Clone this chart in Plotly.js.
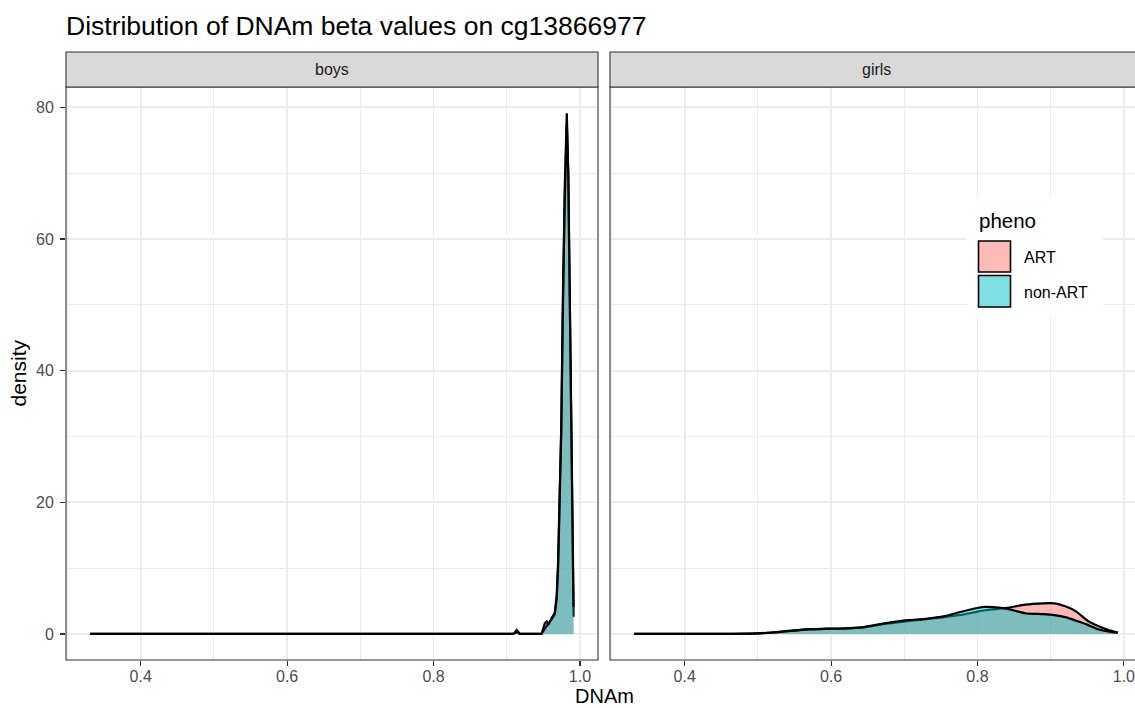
<!DOCTYPE html>
<html>
<head>
<meta charset="utf-8">
<script src="https://cdn.plot.ly/plotly-3.0.1.min.js"></script>
<style>
  html, body { margin: 0; padding: 0; background: #ffffff; }
  #chart { width: 1135px; height: 708px; }
</style>
</head>
<body>
<div id="chart"></div>
<script>
// ---------------- data ----------------
const chartTitle = 'Distribution of DNAm beta values on cg13866977';
const facets = ['boys', 'girls'];
const groups = ['ART', 'non-ART'];
const legendTitle = 'pheno';
const xTitle = 'DNAm';
const yTitle = 'density';

const xTickVals = [0.4, 0.6, 0.8, 1.0];
const xTickText = ['0.4', '0.6', '0.8', '1.0'];
const xMinorVals = [0.3, 0.5, 0.7, 0.9];
const yTickVals = [0, 20, 40, 60, 80];
const yTickText = ['0', '20', '40', '60', '80'];
const yMinorVals = [10, 30, 50, 70];

// boys facet: estimated density curves
const boysX = [0.331, 0.40, 0.50, 0.60, 0.70, 0.80, 0.90, 0.909, 0.9137, 0.918, 0.93, 0.9474,
               0.9519, 0.9546, 0.9574, 0.9611, 0.9656, 0.9683, 0.9701, 0.9724, 0.9745, 0.9765,
               0.9792, 0.9820, 0.9840, 0.9861, 0.9888, 0.9912];
const boysART = [0, 0, 0, 0, 0, 0, 0, 0, 0.6, 0, 0, 0,
                 1.6, 1.9, 1.4, 2.4, 3.2, 6, 11, 20, 32, 50,
                 68, 79.1, 70, 50, 20, 2.6];
const boysNonART = [0, 0, 0, 0, 0, 0, 0, 0, 0.3, 0, 0, 0,
                    0.8, 1.2, 1.5, 2.2, 3.0, 5.5, 10, 19, 31, 48,
                    66, 77.5, 70, 51, 22, 4.1];

// girls facet: estimated density curves
const girlsX = [0.331, 0.40, 0.45, 0.48, 0.50, 0.525, 0.55, 0.57, 0.595, 0.615, 0.645, 0.675,
                0.705, 0.73, 0.755, 0.775, 0.80, 0.81, 0.82, 0.84, 0.865, 0.89, 0.905, 0.92,
                0.935, 0.95, 0.965, 0.98, 0.9916];
const girlsART = [0, 0, 0.01, 0.04, 0.1, 0.3, 0.55, 0.72, 0.8, 0.83, 1.0, 1.55,
                  1.95, 2.25, 2.55, 2.85, 3.4, 3.6, 3.72, 3.95, 4.45, 4.65, 4.65, 4.2,
                  3.4, 2.05, 1.2, 0.55, 0.2];
const girlsNonART = [0, 0, 0.01, 0.03, 0.08, 0.25, 0.5, 0.7, 0.78, 0.82, 1.05, 1.65,
                     2.1, 2.3, 2.7, 3.3, 3.95, 4.1, 4.08, 3.85, 3.15, 3.0, 2.85, 2.55,
                     2.0, 1.42, 0.71, 0.35, 0.2];

// ---------------- styling ----------------
const FONT = 'Liberation Sans, Arial, Helvetica, sans-serif';
const fillART = 'rgba(248,118,109,0.5)';
const fillNon = 'rgba(0,191,196,0.5)';
const keyART = '#FCBBB6';
const keyNon = '#80DFE2';
const grid = '#EBEBEB';

function densTrace(x, y, fill, xa, ya, name, shape) {
  return {
    type: 'scatter', mode: 'lines', x: x, y: y, name: name,
    xaxis: xa, yaxis: ya, fill: 'tozeroy', fillcolor: fill,
    line: { color: '#000000', width: 2.2, shape: shape, smoothing: 0.6 },
    hoverinfo: 'x+y+name', showlegend: false
  };
}

const traces = [
  densTrace(boysX, boysART, fillART, 'x', 'y', groups[0], 'linear'),
  densTrace(boysX, boysNonART, fillNon, 'x', 'y', groups[1], 'linear'),
  densTrace(girlsX, girlsART, fillART, 'x2', 'y2', groups[0], 'spline'),
  densTrace(girlsX, girlsNonART, fillNon, 'x2', 'y2', groups[1], 'spline')
];

// pixel helpers for paper coordinates (plot area: x 66..1135, y 87..660)
const L = 66, T = 87, W = 1135 - 66, H = 708 - 87 - 48;
const px = v => (v - L) / W;
const py = v => (660 - v) / H;

const xDom1 = [0, px(598)];
const xDom2 = [px(610), 1];
const yRange = [-3.957, 83.1];

function xAxis(domain, range, anchor) {
  return {
    domain: domain, range: range, anchor: anchor,
    tickmode: 'array', tickvals: xTickVals, ticktext: xTickText,
    ticks: 'outside', ticklen: 5, tickwidth: 1.1, tickcolor: '#333333',
    tickfont: { family: FONT, size: 16, color: '#4D4D4D' },
    ticklabeloverflow: 'allow', ticklabelstandoff: -3,
    showgrid: true, gridcolor: grid, gridwidth: 1.9,
    minor: { tickmode: 'array', tickvals: xMinorVals, showgrid: true, gridcolor: grid, gridwidth: 1.0, ticks: '' },
    zeroline: false, showline: false, fixedrange: true
  };
}

const layout = {
  width: 1135, height: 708,
  margin: { l: L, r: 0, t: T, b: 48, pad: 0 },
  paper_bgcolor: '#ffffff', plot_bgcolor: '#ffffff',
  showlegend: false,
  font: { family: FONT, color: '#000000' },
  title: {
    text: chartTitle, xref: 'paper', x: 0, xanchor: 'left',
    yref: 'container', y: 1 - 26 / 708, yanchor: 'middle',
    font: { family: FONT, size: 26.5, color: '#000000' }
  },
  xaxis: xAxis(xDom1, [0.298, 1.0246], 'y'),
  xaxis2: xAxis(xDom2, [0.298, 0.298 + 525 / 732], 'y2'),
  yaxis: {
    domain: [0, 1], range: yRange, anchor: 'x',
    tickmode: 'array', tickvals: yTickVals, ticktext: yTickText,
    ticks: 'outside', ticklen: 5, tickwidth: 1.1, tickcolor: '#333333',
    tickfont: { family: FONT, size: 16, color: '#4D4D4D' },
    ticklabelstandoff: 3,
    showgrid: true, gridcolor: grid, gridwidth: 1.9,
    minor: { tickmode: 'array', tickvals: yMinorVals, showgrid: true, gridcolor: grid, gridwidth: 1.0, ticks: '' },
    zeroline: false, showline: false, fixedrange: true
  },
  yaxis2: {
    domain: [0, 1], range: yRange, anchor: 'x2',
    tickmode: 'array', tickvals: yTickVals, showticklabels: false, ticks: '',
    showgrid: true, gridcolor: grid, gridwidth: 1.9,
    minor: { tickmode: 'array', tickvals: yMinorVals, showgrid: true, gridcolor: grid, gridwidth: 1.0, ticks: '' },
    zeroline: false, showline: false, fixedrange: true
  },
  shapes: [
    // panel borders
    { type: 'rect', xref: 'paper', yref: 'paper', x0: xDom1[0], x1: xDom1[1], y0: 0, y1: 1,
      line: { color: '#333333', width: 1.1 }, fillcolor: 'rgba(0,0,0,0)', layer: 'above' },
    { type: 'rect', xref: 'paper', yref: 'paper', x0: xDom2[0], x1: 1.05, y0: 0, y1: 1,
      line: { color: '#333333', width: 1.1 }, fillcolor: 'rgba(0,0,0,0)', layer: 'above' },
    // strips
    { type: 'rect', xref: 'paper', yref: 'paper', x0: xDom1[0], x1: xDom1[1], y0: 1, y1: py(52),
      line: { color: '#333333', width: 1.1 }, fillcolor: '#D9D9D9', layer: 'above' },
    { type: 'rect', xref: 'paper', yref: 'paper', x0: xDom2[0], x1: 1.05, y0: 1, y1: py(52),
      line: { color: '#333333', width: 1.1 }, fillcolor: '#D9D9D9', layer: 'above' },
    // legend background and keys
    { type: 'rect', xref: 'paper', yref: 'paper', x0: px(967), x1: px(1103), y0: py(317), y1: py(198),
      line: { width: 0 }, fillcolor: '#ffffff', layer: 'above' },
    { type: 'rect', xref: 'paper', yref: 'paper', x0: px(978.5), x1: px(1010.5), y0: py(272), y1: py(241),
      line: { color: '#000000', width: 1.6 }, fillcolor: keyART, layer: 'above' },
    { type: 'rect', xref: 'paper', yref: 'paper', x0: px(978.5), x1: px(1010.5), y0: py(307), y1: py(275.5),
      line: { color: '#000000', width: 1.6 }, fillcolor: keyNon, layer: 'above' }
  ],
  annotations: [
    { text: facets[0], xref: 'paper', yref: 'paper', x: (xDom1[0] + xDom1[1]) / 2, y: py(69.5),
      xanchor: 'center', yanchor: 'middle', showarrow: false, font: { family: FONT, size: 16, color: '#1A1A1A' } },
    { text: facets[1], xref: 'paper', yref: 'paper', x: px(876), y: py(69.5),
      xanchor: 'center', yanchor: 'middle', showarrow: false, font: { family: FONT, size: 16, color: '#1A1A1A' } },
    { text: xTitle, xref: 'paper', yref: 'paper', x: px(604), y: py(696),
      xanchor: 'center', yanchor: 'middle', showarrow: false, font: { family: FONT, size: 20, color: '#000000' } },
    { text: yTitle, xref: 'paper', yref: 'paper', x: px(18), y: 0.5, textangle: -90,
      xanchor: 'center', yanchor: 'middle', showarrow: false, font: { family: FONT, size: 21, color: '#000000' } },
    { text: legendTitle, xref: 'paper', yref: 'paper', x: px(977), y: py(220),
      xanchor: 'left', yanchor: 'middle', showarrow: false, font: { family: FONT, size: 20.5, color: '#000000' } },
    { text: groups[0], xref: 'paper', yref: 'paper', x: px(1022), y: py(257),
      xanchor: 'left', yanchor: 'middle', showarrow: false, font: { family: FONT, size: 16, color: '#000000' } },
    { text: groups[1], xref: 'paper', yref: 'paper', x: px(1022), y: py(292),
      xanchor: 'left', yanchor: 'middle', showarrow: false, font: { family: FONT, size: 16, color: '#000000' } }
  ]
};

Plotly.newPlot('chart', traces, layout, { displayModeBar: false, staticPlot: true });
</script>
</body>
</html>
